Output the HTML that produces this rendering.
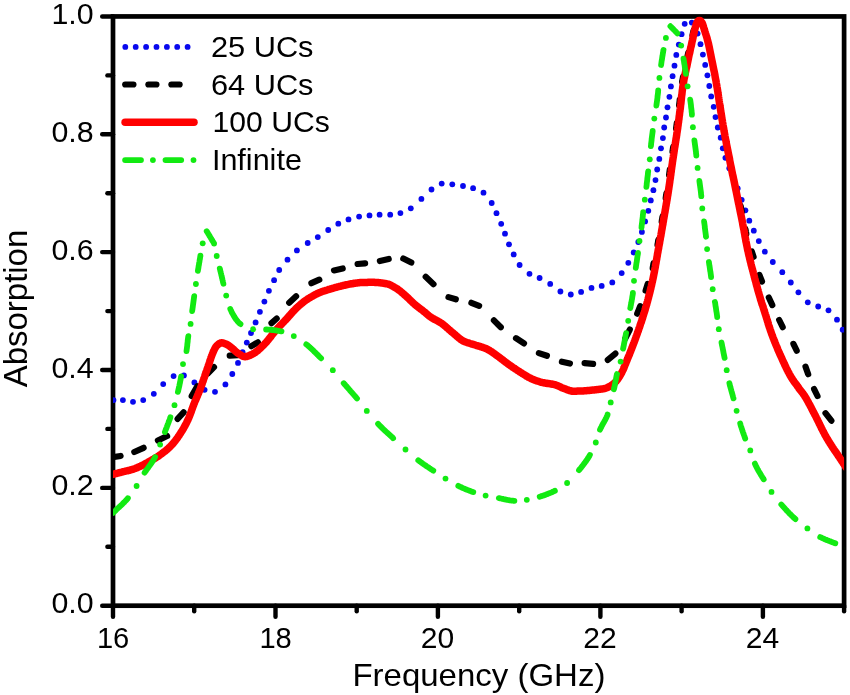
<!DOCTYPE html>
<html lang="en"><head><meta charset="utf-8"><title>Absorption vs Frequency</title>
<style>html,body{margin:0;padding:0;background:#fff;}svg{display:block;}</style></head>
<body>
<svg width="850" height="695" viewBox="0 0 850 695">
<rect width="850" height="695" fill="#fff"/>
<defs><clipPath id="cp"><rect x="113.0" y="16.45" width="731.1" height="589.25"/></clipPath></defs>
<g stroke="#000" stroke-width="4.7" fill="none" stroke-linecap="round">
<rect x="113.0" y="16.45" width="731.1" height="589.25" stroke-linejoin="miter"/>
<path d="M113.0,605.7 V616.8000000000001" stroke-width="4.4"/>
<path d="M194.2,605.7 V611.2" stroke-width="4.4"/>
<path d="M275.5,605.7 V616.8000000000001" stroke-width="4.4"/>
<path d="M356.7,605.7 V611.2" stroke-width="4.4"/>
<path d="M437.9,605.7 V616.8000000000001" stroke-width="4.4"/>
<path d="M519.2,605.7 V611.2" stroke-width="4.4"/>
<path d="M600.4,605.7 V616.8000000000001" stroke-width="4.4"/>
<path d="M681.6,605.7 V611.2" stroke-width="4.4"/>
<path d="M762.9,605.7 V616.8000000000001" stroke-width="4.4"/>
<path d="M844.1,605.7 V611.2" stroke-width="4.4"/>
<path d="M113.0,605.7 H102.2" stroke-width="4.4"/>
<path d="M113.0,546.8 H107.4" stroke-width="4.4"/>
<path d="M113.0,487.9 H102.2" stroke-width="4.4"/>
<path d="M113.0,428.9 H107.4" stroke-width="4.4"/>
<path d="M113.0,370.0 H102.2" stroke-width="4.4"/>
<path d="M113.0,311.1 H107.4" stroke-width="4.4"/>
<path d="M113.0,252.1 H102.2" stroke-width="4.4"/>
<path d="M113.0,193.2 H107.4" stroke-width="4.4"/>
<path d="M113.0,134.3 H102.2" stroke-width="4.4"/>
<path d="M113.0,75.4 H107.4" stroke-width="4.4"/>
<path d="M113.0,16.5 H102.2" stroke-width="4.4"/>
</g>
<g clip-path="url(#cp)" fill="none" stroke-linecap="round" stroke-linejoin="round">
<g fill="#0808ee" stroke="none">
<circle cx="113.5" cy="400.1" r="2.9"/>
<circle cx="122.9" cy="400.1" r="2.9"/>
<circle cx="133.0" cy="401.8" r="2.9"/>
<circle cx="143.2" cy="400.1" r="2.9"/>
<circle cx="153.8" cy="393.8" r="2.9"/>
<circle cx="163.2" cy="384.1" r="2.9"/>
<circle cx="173.6" cy="376.1" r="2.9"/>
<circle cx="183.9" cy="375.4" r="2.9"/>
<circle cx="194.4" cy="382.4" r="2.9"/>
<circle cx="204.6" cy="389.8" r="2.9"/>
<circle cx="215.0" cy="391.8" r="2.9"/>
<circle cx="225.4" cy="384.4" r="2.9"/>
<circle cx="232.3" cy="374.0" r="2.9"/>
<circle cx="238.0" cy="362.9" r="2.9"/>
<circle cx="242.6" cy="352.2" r="2.9"/>
<circle cx="246.8" cy="342.6" r="2.9"/>
<circle cx="251.0" cy="333.0" r="2.9"/>
<circle cx="255.6" cy="322.4" r="2.9"/>
<circle cx="259.9" cy="311.8" r="2.9"/>
<circle cx="264.4" cy="301.6" r="2.9"/>
<circle cx="268.9" cy="290.8" r="2.9"/>
<circle cx="274.1" cy="280.2" r="2.9"/>
<circle cx="279.2" cy="270.0" r="2.9"/>
<circle cx="287.5" cy="259.7" r="2.9"/>
<circle cx="296.9" cy="250.4" r="2.9"/>
<circle cx="307.7" cy="243.0" r="2.9"/>
<circle cx="317.8" cy="237.1" r="2.9"/>
<circle cx="328.2" cy="230.0" r="2.9"/>
<circle cx="338.3" cy="223.7" r="2.9"/>
<circle cx="348.5" cy="219.4" r="2.9"/>
<circle cx="359.1" cy="216.6" r="2.9"/>
<circle cx="369.5" cy="215.4" r="2.9"/>
<circle cx="379.6" cy="214.7" r="2.9"/>
<circle cx="390.2" cy="214.7" r="2.9"/>
<circle cx="400.4" cy="213.1" r="2.9"/>
<circle cx="410.8" cy="208.3" r="2.9"/>
<circle cx="421.4" cy="198.9" r="2.9"/>
<circle cx="431.5" cy="189.5" r="2.9"/>
<circle cx="441.7" cy="183.6" r="2.9"/>
<circle cx="452.3" cy="184.3" r="2.9"/>
<circle cx="463.0" cy="186.0" r="2.9"/>
<circle cx="473.1" cy="188.2" r="2.9"/>
<circle cx="483.5" cy="192.7" r="2.9"/>
<circle cx="491.7" cy="203.0" r="2.9"/>
<circle cx="496.5" cy="213.2" r="2.9"/>
<circle cx="501.2" cy="223.8" r="2.9"/>
<circle cx="505.0" cy="233.7" r="2.9"/>
<circle cx="509.0" cy="244.3" r="2.9"/>
<circle cx="513.7" cy="254.4" r="2.9"/>
<circle cx="519.6" cy="265.0" r="2.9"/>
<circle cx="529.5" cy="273.8" r="2.9"/>
<circle cx="539.6" cy="278.0" r="2.9"/>
<circle cx="550.2" cy="283.9" r="2.9"/>
<circle cx="560.4" cy="291.5" r="2.9"/>
<circle cx="570.8" cy="294.5" r="2.9"/>
<circle cx="581.1" cy="291.9" r="2.9"/>
<circle cx="591.5" cy="287.9" r="2.9"/>
<circle cx="601.7" cy="285.9" r="2.9"/>
<circle cx="612.3" cy="282.4" r="2.9"/>
<circle cx="621.7" cy="273.1" r="2.9"/>
<circle cx="628.3" cy="262.8" r="2.9"/>
<circle cx="633.7" cy="252.5" r="2.9"/>
<circle cx="638.3" cy="242.0" r="2.9"/>
<circle cx="641.9" cy="231.9" r="2.9"/>
<circle cx="645.1" cy="221.4" r="2.9"/>
<circle cx="648.3" cy="210.8" r="2.9"/>
<circle cx="650.8" cy="200.4" r="2.9"/>
<circle cx="653.4" cy="190.2" r="2.9"/>
<circle cx="655.5" cy="180.1" r="2.9"/>
<circle cx="657.2" cy="169.5" r="2.9"/>
<circle cx="659.3" cy="158.9" r="2.9"/>
<circle cx="661.0" cy="148.3" r="2.9"/>
<circle cx="662.9" cy="138.1" r="2.9"/>
<circle cx="664.2" cy="127.5" r="2.9"/>
<circle cx="666.0" cy="117.5" r="2.9"/>
<circle cx="667.5" cy="107.3" r="2.9"/>
<circle cx="669.4" cy="96.8" r="2.9"/>
<circle cx="670.9" cy="86.4" r="2.9"/>
<circle cx="672.6" cy="76.2" r="2.9"/>
<circle cx="674.5" cy="65.7" r="2.9"/>
<circle cx="676.3" cy="54.9" r="2.9"/>
<circle cx="678.8" cy="44.6" r="2.9"/>
<circle cx="681.6" cy="34.2" r="2.9"/>
<circle cx="684.7" cy="23.8" r="2.9"/>
<circle cx="691.8" cy="22.6" r="2.9"/>
<circle cx="697.6" cy="33.6" r="2.9"/>
<circle cx="700.5" cy="44.2" r="2.9"/>
<circle cx="702.9" cy="54.6" r="2.9"/>
<circle cx="705.2" cy="64.9" r="2.9"/>
<circle cx="707.4" cy="75.3" r="2.9"/>
<circle cx="709.3" cy="86.0" r="2.9"/>
<circle cx="711.2" cy="96.4" r="2.9"/>
<circle cx="713.7" cy="106.8" r="2.9"/>
<circle cx="715.5" cy="117.1" r="2.9"/>
<circle cx="717.8" cy="127.5" r="2.9"/>
<circle cx="720.7" cy="137.7" r="2.9"/>
<circle cx="722.8" cy="148.3" r="2.9"/>
<circle cx="725.4" cy="157.8" r="2.9"/>
<circle cx="729.3" cy="168.2" r="2.9"/>
<circle cx="733.5" cy="178.4" r="2.9"/>
<circle cx="737.7" cy="188.5" r="2.9"/>
<circle cx="741.7" cy="199.8" r="2.9"/>
<circle cx="745.4" cy="210.3" r="2.9"/>
<circle cx="749.3" cy="220.7" r="2.9"/>
<circle cx="753.8" cy="230.7" r="2.9"/>
<circle cx="758.8" cy="241.1" r="2.9"/>
<circle cx="764.8" cy="251.7" r="2.9"/>
<circle cx="772.8" cy="262.0" r="2.9"/>
<circle cx="782.3" cy="272.2" r="2.9"/>
<circle cx="790.8" cy="282.5" r="2.9"/>
<circle cx="798.4" cy="292.3" r="2.9"/>
<circle cx="807.8" cy="302.3" r="2.9"/>
<circle cx="818.2" cy="306.5" r="2.9"/>
<circle cx="828.5" cy="310.3" r="2.9"/>
<circle cx="837.0" cy="319.7" r="2.9"/>
<circle cx="842.7" cy="329.7" r="2.9"/>
</g>
<g stroke="#000" stroke-width="6.2">
<path d="M112.6,457.3 L120.6,456.0"/>
<path d="M134.3,452.0 L143.6,447.8"/>
<path d="M157.9,440.5 L167.1,436.0"/>
<path d="M177.6,418.9 L183.6,412.4"/>
<path d="M191.7,396.1 L197.3,386.2"/>
<path d="M207.7,373.5 L214.0,367.1"/>
<path d="M229.7,355.6 L238.0,355.1"/>
<path d="M251.4,346.2 L257.9,342.3"/>
<path d="M271.5,323.1 L276.7,318.5"/>
<path d="M289.2,302.7 L296.1,296.3"/>
<path d="M311.4,283.2 L319.3,279.7"/>
<path d="M334.0,270.4 L342.7,268.4"/>
<path d="M357.6,264.0 L365.1,263.3"/>
<path d="M379.9,261.0 L388.7,259.0"/>
<path d="M403.3,258.6 L411.3,262.6"/>
<path d="M425.7,276.8 L433.5,284.2"/>
<path d="M448.5,297.1 L455.8,299.3"/>
<path d="M471.4,302.8 L479.1,305.8"/>
<path d="M493.9,320.4 L500.8,327.3"/>
<path d="M516.0,338.2 L524.0,343.4"/>
<path d="M538.9,353.1 L546.9,355.8"/>
<path d="M561.9,361.7 L569.9,363.6"/>
<path d="M584.6,363.1 L593.1,363.9"/>
<path d="M607.8,359.9 L615.4,353.6"/>
<path d="M625.2,338.7 L629.8,329.6"/>
<path d="M637.2,313.7 L640.2,306.2"/>
<path d="M645.6,290.6 L647.7,284.0"/>
<path d="M751.8,251.4 L753.6,256.9"/>
<path d="M759.4,274.9 L762.0,281.5"/>
<path d="M768.8,297.5 L772.3,305.1"/>
<path d="M779.2,320.0 L782.7,327.2"/>
<path d="M793.4,343.9 L796.7,350.7"/>
<path d="M805.5,366.6 L808.2,374.2"/>
<path d="M814.1,389.1 L817.5,396.0"/>
<path d="M825.5,413.2 L831.4,420.7"/>
<path d="M652.7,268.1 L652.8,267.4 L652.9,266.7 L653.1,265.9 L653.2,265.2 L653.3,264.4 L653.5,263.7 L653.6,263.0"/>
<path d="M657.5,245.0 L657.6,244.2 L657.7,243.5 L657.9,242.8 L658.0,242.0 L658.1,241.3 L658.2,240.6 L658.4,239.8"/>
<path d="M661.7,221.6 L661.8,220.9 L661.9,220.1 L662.1,219.4 L662.2,218.6 L662.3,217.9 L662.4,217.2 L662.6,216.4"/>
<path d="M665.7,198.2 L665.8,197.4 L665.9,196.7 L666.0,196.0 L666.1,195.2 L666.3,194.5 L666.4,193.7 L666.5,193.0"/>
<path d="M669.1,174.9 L669.2,174.2 L669.3,173.5 L669.4,172.7 L669.5,172.0 L669.6,171.2 L669.7,170.5 L669.8,169.7"/>
<path d="M672.5,151.7 L672.6,150.9 L672.7,150.2 L672.8,149.5 L672.9,148.7 L673.0,148.0 L673.2,147.2 L673.3,146.5"/>
<path d="M676.1,128.4 L676.2,127.7 L676.3,127.0 L676.4,126.2 L676.5,125.5 L676.6,124.7 L676.7,124.0 L676.8,123.2"/>
<path d="M679.1,105.1 L679.2,104.4 L679.3,103.7 L679.4,102.9 L679.5,102.2 L679.6,101.4 L679.7,100.7 L679.7,99.9"/>
<path d="M682.1,81.8 L682.2,81.1 L682.4,80.4 L682.5,79.6 L682.7,78.9 L682.8,78.2 L682.9,77.4 L683.1,76.7"/>
<path d="M687.0,58.6 L687.2,57.8 L687.3,57.1 L687.5,56.4 L687.6,55.6 L687.8,54.9 L687.9,54.2 L688.1,53.4 L688.3,52.7"/>
<path d="M692.5,35.1 L692.7,34.4 L692.8,33.6 L693.0,32.9 L693.2,32.2 L693.3,31.5 L693.5,30.7"/>
<path d="M740.6,205.8 L740.8,206.5 L740.9,207.3 L741.1,208.0 L741.2,208.7 L741.4,209.5 L741.5,210.2 L741.7,210.9 L741.8,211.7"/>
<path d="M745.4,228.9 L745.5,229.6 L745.7,230.3 L745.8,231.1 L745.9,231.8 L746.1,232.5 L746.2,233.3 L746.3,234.0"/>
</g>
<path d="M113.0,474.3 L114.0,474.1 L114.9,473.8 L115.9,473.6 L116.9,473.3 L117.8,473.1 L118.8,472.8 L119.8,472.6 L120.8,472.3 L121.7,472.1 L122.7,471.8 L123.7,471.6 L124.6,471.4 L125.6,471.1 L126.6,470.9 L127.6,470.7 L128.6,470.5 L129.5,470.2 L130.5,470.0 L131.5,469.7 L132.4,469.4 L133.4,469.1 L134.3,468.8 L135.2,468.5 L136.2,468.1 L137.1,467.7 L138.0,467.3 L138.9,466.9 L139.8,466.5 L140.7,466.1 L141.6,465.6 L142.5,465.2 L143.4,464.7 L144.3,464.2 L145.2,463.8 L146.1,463.3 L147.0,462.8 L147.8,462.4 L148.7,461.9 L149.6,461.4 L150.5,460.9 L151.3,460.4 L152.2,459.9 L153.1,459.4 L153.9,458.9 L154.8,458.4 L155.7,457.8 L156.5,457.3 L157.4,456.8 L158.2,456.2 L159.0,455.7 L159.8,455.1 L160.6,454.5 L161.5,453.9 L162.2,453.3 L163.0,452.7 L163.8,452.1 L164.6,451.5 L165.4,450.9 L166.2,450.2 L167.0,449.6 L167.7,448.9 L168.5,448.2 L169.2,447.5 L169.9,446.8 L170.6,446.1 L171.3,445.4 L172.0,444.7 L172.6,444.0 L173.3,443.2 L173.9,442.4 L174.5,441.7 L175.2,440.9 L175.8,440.1 L176.4,439.3 L177.0,438.5 L177.6,437.7 L178.1,436.8 L178.7,436.0 L179.3,435.2 L179.8,434.3 L180.4,433.5 L180.9,432.6 L181.4,431.8 L182.0,431.0 L182.5,430.1 L183.0,429.2 L183.5,428.4 L184.0,427.5 L184.5,426.6 L185.0,425.8 L185.4,424.9 L185.9,424.0 L186.4,423.1 L186.8,422.2 L187.2,421.3 L187.7,420.4 L188.1,419.5 L188.5,418.6 L188.9,417.7 L189.3,416.7 L189.6,415.8 L190.0,414.9 L190.4,413.9 L190.7,413.0 L191.1,412.1 L191.4,411.1 L191.7,410.2 L192.1,409.2 L192.4,408.3 L192.7,407.3 L193.1,406.4 L193.4,405.5 L193.8,404.5 L194.2,403.6 L194.5,402.7 L194.9,401.7 L195.3,400.8 L195.7,399.9 L196.1,399.0 L196.5,398.1 L196.9,397.1 L197.3,396.2 L197.6,395.3 L198.0,394.4 L198.4,393.5 L198.8,392.5 L199.2,391.6 L199.6,390.7 L199.9,389.8 L200.3,388.8 L200.6,387.9 L201.0,386.9 L201.3,386.0 L201.7,385.1 L202.0,384.1 L202.3,383.2 L202.6,382.2 L203.0,381.3 L203.3,380.3 L203.6,379.4 L203.9,378.4 L204.3,377.5 L204.6,376.6 L204.9,375.6 L205.2,374.7 L205.6,373.7 L205.9,372.8 L206.2,371.8 L206.6,370.9 L206.9,369.9 L207.2,369.0 L207.5,368.1 L207.9,367.1 L208.2,366.2 L208.5,365.2 L208.9,364.3 L209.2,363.3 L209.5,362.4 L209.8,361.4 L210.1,360.5 L210.4,359.5 L210.7,358.6 L211.0,357.6 L211.4,356.7 L211.7,355.7 L212.1,354.8 L212.4,353.9 L212.8,353.0 L213.2,352.0 L213.6,351.0 L214.1,350.1 L214.5,349.2 L215.0,348.3 L215.5,347.4 L216.0,346.6 L216.6,345.9 L217.3,345.2 L218.1,344.5 L219.0,343.8 L219.9,343.2 L220.8,342.9 L221.7,342.8 L222.7,342.9 L223.6,343.2 L224.6,343.5 L225.6,343.9 L226.5,344.3 L227.4,344.7 L228.2,345.2 L229.1,345.8 L229.9,346.4 L230.7,347.1 L231.5,347.7 L232.3,348.3 L233.0,349.0 L233.8,349.6 L234.5,350.3 L235.2,351.0 L236.0,351.7 L236.7,352.3 L237.5,352.9 L238.3,353.5 L239.2,354.0 L240.1,354.6 L241.0,355.2 L241.9,355.7 L242.8,356.2 L243.7,356.5 L244.6,356.7 L245.6,356.7 L246.5,356.5 L247.5,356.3 L248.4,356.0 L249.4,355.6 L250.3,355.1 L251.3,354.7 L252.2,354.2 L253.1,353.7 L253.9,353.2 L254.8,352.7 L255.6,352.2 L256.4,351.6 L257.2,351.0 L258.0,350.4 L258.7,349.7 L259.5,349.0 L260.2,348.4 L261.0,347.6 L261.7,346.9 L262.4,346.2 L263.1,345.5 L263.8,344.8 L264.5,344.1 L265.2,343.3 L265.9,342.6 L266.6,341.9 L267.2,341.1 L267.9,340.3 L268.5,339.6 L269.1,338.8 L269.7,338.0 L270.4,337.2 L271.0,336.4 L271.6,335.6 L272.2,334.8 L272.8,334.0 L273.4,333.2 L274.1,332.5 L274.7,331.7 L275.3,330.9 L276.0,330.1 L276.6,329.4 L277.3,328.6 L278.0,327.9 L278.7,327.2 L279.3,326.5 L280.0,325.7 L280.7,325.0 L281.4,324.3 L282.1,323.6 L282.8,322.9 L283.5,322.2 L284.2,321.4 L284.9,320.7 L285.6,320.0 L286.3,319.2 L287.0,318.5 L287.6,317.8 L288.3,317.0 L288.9,316.2 L289.6,315.5 L290.3,314.7 L290.9,314.0 L291.6,313.2 L292.3,312.5 L292.9,311.7 L293.6,311.0 L294.3,310.3 L295.0,309.6 L295.7,308.8 L296.4,308.2 L297.1,307.5 L297.9,306.8 L298.6,306.1 L299.3,305.5 L300.1,304.8 L300.9,304.2 L301.6,303.5 L302.4,302.9 L303.2,302.3 L304.0,301.6 L304.8,301.0 L305.6,300.4 L306.4,299.9 L307.3,299.3 L308.1,298.8 L308.9,298.2 L309.8,297.7 L310.6,297.2 L311.5,296.7 L312.4,296.2 L313.2,295.7 L314.1,295.2 L315.0,294.8 L315.9,294.3 L316.8,293.9 L317.7,293.4 L318.6,293.0 L319.6,292.6 L320.5,292.3 L321.4,291.9 L322.3,291.5 L323.3,291.2 L324.2,290.9 L325.2,290.6 L326.1,290.3 L327.1,290.0 L328.0,289.7 L329.0,289.4 L330.0,289.1 L330.9,288.8 L331.9,288.5 L332.8,288.3 L333.8,288.0 L334.8,287.7 L335.7,287.4 L336.7,287.2 L337.7,286.9 L338.6,286.7 L339.6,286.4 L340.6,286.2 L341.5,285.9 L342.5,285.7 L343.5,285.4 L344.5,285.2 L345.4,285.0 L346.4,284.8 L347.4,284.6 L348.4,284.4 L349.3,284.2 L350.3,284.0 L351.3,283.8 L352.3,283.7 L353.3,283.5 L354.3,283.3 L355.3,283.2 L356.3,283.1 L357.3,282.9 L358.2,282.8 L359.2,282.7 L360.2,282.6 L361.2,282.5 L362.2,282.5 L363.2,282.5 L364.2,282.4 L365.2,282.4 L366.2,282.4 L367.2,282.4 L368.2,282.3 L369.2,282.3 L370.2,282.3 L371.2,282.3 L372.2,282.3 L373.2,282.3 L374.2,282.3 L375.2,282.4 L376.2,282.4 L377.3,282.5 L378.3,282.6 L379.3,282.7 L380.3,282.8 L381.3,282.9 L382.3,283.1 L383.3,283.2 L384.2,283.4 L385.2,283.5 L386.2,283.7 L387.1,283.9 L388.1,284.1 L389.0,284.4 L389.9,284.8 L390.9,285.2 L391.8,285.7 L392.7,286.2 L393.6,286.7 L394.4,287.2 L395.3,287.7 L396.2,288.2 L397.0,288.8 L397.8,289.3 L398.6,289.9 L399.4,290.5 L400.2,291.1 L401.0,291.8 L401.7,292.4 L402.5,293.1 L403.3,293.7 L404.0,294.4 L404.8,295.1 L405.5,295.7 L406.3,296.4 L407.0,297.1 L407.7,297.7 L408.5,298.4 L409.2,299.1 L409.9,299.8 L410.6,300.5 L411.3,301.2 L412.1,301.9 L412.8,302.6 L413.5,303.3 L414.3,304.0 L415.0,304.6 L415.8,305.3 L416.6,305.9 L417.3,306.5 L418.1,307.1 L418.9,307.7 L419.7,308.3 L420.5,308.9 L421.3,309.5 L422.1,310.1 L422.9,310.7 L423.7,311.4 L424.5,312.0 L425.3,312.6 L426.0,313.3 L426.8,313.9 L427.5,314.6 L428.3,315.3 L429.1,315.9 L429.9,316.5 L430.7,317.1 L431.5,317.6 L432.4,318.1 L433.2,318.6 L434.1,319.1 L435.0,319.6 L435.9,320.0 L436.8,320.5 L437.7,321.0 L438.5,321.5 L439.4,322.0 L440.2,322.5 L441.1,323.0 L441.9,323.6 L442.7,324.2 L443.5,324.8 L444.3,325.4 L445.0,326.1 L445.8,326.7 L446.5,327.4 L447.3,328.0 L448.1,328.7 L448.8,329.4 L449.6,330.0 L450.3,330.7 L451.1,331.3 L451.8,332.0 L452.6,332.6 L453.4,333.3 L454.2,333.9 L454.9,334.6 L455.7,335.3 L456.5,335.9 L457.2,336.6 L458.0,337.3 L458.8,337.9 L459.6,338.5 L460.4,339.2 L461.2,339.7 L462.0,340.3 L462.8,340.8 L463.7,341.2 L464.6,341.6 L465.5,342.0 L466.4,342.3 L467.3,342.6 L468.3,342.9 L469.3,343.2 L470.2,343.5 L471.2,343.8 L472.2,344.1 L473.2,344.4 L474.1,344.7 L475.1,345.0 L476.0,345.3 L477.0,345.6 L478.0,345.9 L478.9,346.2 L479.9,346.5 L480.9,346.7 L481.8,347.0 L482.8,347.4 L483.7,347.7 L484.6,348.0 L485.6,348.4 L486.5,348.8 L487.3,349.2 L488.2,349.7 L489.1,350.1 L489.9,350.7 L490.8,351.2 L491.6,351.8 L492.4,352.3 L493.3,352.9 L494.1,353.5 L494.9,354.1 L495.7,354.7 L496.5,355.3 L497.3,355.9 L498.2,356.5 L499.0,357.1 L499.8,357.7 L500.6,358.3 L501.4,358.9 L502.2,359.5 L503.0,360.1 L503.7,360.7 L504.5,361.3 L505.3,361.9 L506.1,362.5 L506.9,363.1 L507.7,363.7 L508.5,364.3 L509.3,364.9 L510.2,365.5 L511.0,366.0 L511.8,366.6 L512.6,367.2 L513.5,367.7 L514.3,368.3 L515.1,368.8 L516.0,369.4 L516.8,369.9 L517.6,370.5 L518.5,371.0 L519.3,371.6 L520.2,372.1 L521.0,372.6 L521.9,373.2 L522.7,373.7 L523.6,374.2 L524.4,374.8 L525.3,375.3 L526.1,375.9 L527.0,376.4 L527.8,376.9 L528.7,377.4 L529.6,377.8 L530.5,378.3 L531.4,378.7 L532.3,379.1 L533.2,379.5 L534.1,379.9 L535.0,380.2 L536.0,380.6 L536.9,380.9 L537.9,381.2 L538.9,381.5 L539.8,381.8 L540.8,382.1 L541.7,382.4 L542.7,382.6 L543.7,382.8 L544.7,383.0 L545.6,383.2 L546.6,383.3 L547.6,383.5 L548.6,383.6 L549.6,383.7 L550.6,383.9 L551.6,384.0 L552.6,384.2 L553.6,384.4 L554.5,384.6 L555.5,384.9 L556.4,385.2 L557.3,385.6 L558.3,386.0 L559.2,386.4 L560.1,386.8 L561.0,387.3 L561.9,387.7 L562.9,388.1 L563.8,388.4 L564.7,388.7 L565.7,389.1 L566.6,389.5 L567.6,389.9 L568.6,390.2 L569.5,390.6 L570.5,390.8 L571.4,391.0 L572.4,391.2 L573.4,391.2 L574.4,391.2 L575.4,391.2 L576.4,391.2 L577.4,391.1 L578.4,391.1 L579.4,391.1 L580.4,391.0 L581.4,391.0 L582.4,390.9 L583.4,390.9 L584.4,390.8 L585.4,390.7 L586.4,390.7 L587.4,390.6 L588.4,390.5 L589.4,390.4 L590.4,390.3 L591.4,390.2 L592.4,390.1 L593.4,390.0 L594.3,389.9 L595.3,389.8 L596.3,389.7 L597.3,389.6 L598.3,389.4 L599.4,389.3 L600.4,389.2 L601.3,389.1 L602.3,388.9 L603.3,388.8 L604.3,388.6 L605.2,388.3 L606.2,388.0 L607.1,387.7 L608.1,387.2 L609.0,386.8 L609.9,386.3 L610.8,385.8 L611.6,385.3 L612.4,384.8 L613.1,384.2 L613.9,383.6 L614.6,382.9 L615.3,382.1 L616.0,381.4 L616.6,380.6 L617.3,379.8 L617.9,378.9 L618.5,378.1 L619.0,377.2 L619.6,376.4 L620.1,375.5 L620.6,374.7 L621.1,373.8 L621.6,373.0 L622.0,372.1 L622.4,371.2 L622.9,370.3 L623.3,369.4 L623.7,368.5 L624.1,367.5 L624.4,366.6 L624.8,365.7 L625.2,364.7 L625.6,363.8 L625.9,362.8 L626.3,361.9 L626.7,361.0 L627.1,360.0 L627.5,359.1 L627.8,358.2 L628.2,357.3 L628.6,356.3 L629.0,355.4 L629.4,354.5 L629.7,353.6 L630.1,352.6 L630.5,351.7 L630.8,350.8 L631.2,349.8 L631.6,348.9 L631.9,348.0 L632.3,347.0 L632.7,346.1 L633.0,345.2 L633.4,344.2 L633.7,343.3 L634.1,342.4 L634.4,341.4 L634.8,340.5 L635.1,339.6 L635.5,338.6 L635.8,337.7 L636.1,336.7 L636.5,335.8 L636.8,334.9 L637.2,333.9 L637.5,333.0 L637.8,332.0 L638.2,331.1 L638.5,330.1 L638.8,329.2 L639.1,328.2 L639.5,327.3 L639.8,326.4 L640.1,325.4 L640.4,324.5 L640.7,323.5 L641.1,322.6 L641.4,321.6 L641.7,320.7 L642.0,319.7 L642.3,318.8 L642.6,317.8 L642.9,316.8 L643.2,315.9 L643.5,314.9 L643.8,314.0 L644.1,313.0 L644.4,312.1 L644.7,311.1 L645.0,310.2 L645.3,309.2 L645.5,308.2 L645.8,307.3 L646.1,306.3 L646.4,305.4 L646.7,304.4 L646.9,303.4 L647.2,302.5 L647.5,301.5 L647.7,300.5 L648.0,299.6 L648.2,298.6 L648.5,297.6 L648.7,296.7 L649.0,295.7 L649.2,294.7 L649.5,293.8 L649.7,292.8 L650.0,291.8 L650.2,290.9 L650.4,289.9 L650.7,288.9 L650.9,287.9 L651.1,287.0 L651.4,286.0 L651.6,285.0 L651.8,284.0 L652.0,283.1 L652.2,282.1 L652.5,281.1 L652.7,280.1 L652.9,279.2 L653.1,278.2 L653.3,277.2 L653.5,276.2 L653.7,275.2 L653.9,274.3 L654.1,273.3 L654.3,272.3 L654.5,271.3 L654.6,270.3 L654.8,269.4 L655.0,268.4 L655.2,267.4 L655.4,266.4 L655.5,265.4 L655.7,264.4 L655.9,263.5 L656.1,262.5 L656.2,261.5 L656.4,260.5 L656.6,259.5 L656.8,258.5 L656.9,257.5 L657.1,256.6 L657.3,255.6 L657.4,254.6 L657.6,253.6 L657.8,252.6 L658.0,251.6 L658.1,250.6 L658.3,249.7 L658.5,248.7 L658.7,247.7 L658.8,246.7 L659.0,245.7 L659.2,244.7 L659.4,243.8 L659.6,242.8 L659.7,241.8 L659.9,240.8 L660.1,239.8 L660.3,238.8 L660.4,237.8 L660.6,236.9 L660.8,235.9 L661.0,234.9 L661.1,233.9 L661.3,232.9 L661.5,231.9 L661.6,231.0 L661.8,230.0 L662.0,229.0 L662.2,228.0 L662.3,227.0 L662.5,226.0 L662.7,225.0 L662.9,224.1 L663.0,223.1 L663.2,222.1 L663.4,221.1 L663.5,220.1 L663.7,219.1 L663.9,218.1 L664.0,217.2 L664.2,216.2 L664.4,215.2 L664.5,214.2 L664.7,213.2 L664.9,212.2 L665.1,211.2 L665.2,210.3 L665.4,209.3 L665.6,208.3 L665.7,207.3 L665.9,206.3 L666.1,205.3 L666.2,204.3 L666.4,203.4 L666.6,202.4 L666.7,201.4 L666.9,200.4 L667.1,199.4 L667.2,198.4 L667.4,197.4 L667.5,196.5 L667.7,195.5 L667.9,194.5 L668.0,193.5 L668.2,192.5 L668.3,191.5 L668.5,190.5 L668.6,189.5 L668.8,188.6 L668.9,187.6 L669.1,186.6 L669.2,185.6 L669.4,184.6 L669.5,183.6 L669.7,182.6 L669.8,181.6 L669.9,180.6 L670.1,179.6 L670.2,178.7 L670.4,177.7 L670.5,176.7 L670.6,175.7 L670.8,174.7 L670.9,173.7 L671.0,172.7 L671.2,171.7 L671.3,170.7 L671.4,169.7 L671.6,168.7 L671.7,167.8 L671.8,166.8 L672.0,165.8 L672.1,164.8 L672.3,163.8 L672.4,162.8 L672.5,161.8 L672.7,160.8 L672.8,159.8 L673.0,158.8 L673.1,157.9 L673.3,156.9 L673.4,155.9 L673.6,154.9 L673.7,153.9 L673.9,152.9 L674.0,151.9 L674.2,150.9 L674.3,149.9 L674.5,149.0 L674.6,148.0 L674.8,147.0 L675.0,146.0 L675.1,145.0 L675.3,144.0 L675.4,143.0 L675.6,142.0 L675.7,141.1 L675.9,140.1 L676.0,139.1 L676.2,138.1 L676.4,137.1 L676.5,136.1 L676.7,135.1 L676.8,134.1 L676.9,133.1 L677.1,132.2 L677.2,131.2 L677.4,130.2 L677.5,129.2 L677.7,128.2 L677.8,127.2 L677.9,126.2 L678.1,125.2 L678.2,124.2 L678.3,123.2 L678.5,122.3 L678.6,121.3 L678.7,120.3 L678.9,119.3 L679.0,118.3 L679.1,117.3 L679.2,116.3 L679.4,115.3 L679.5,114.3 L679.6,113.3 L679.7,112.3 L679.9,111.3 L680.0,110.4 L680.1,109.4 L680.3,108.4 L680.4,107.4 L680.5,106.4 L680.6,105.4 L680.7,104.4 L680.9,103.4 L681.0,102.4 L681.1,101.4 L681.2,100.4 L681.3,99.4 L681.4,98.4 L681.5,97.4 L681.6,96.4 L681.7,95.4 L681.9,94.5 L682.0,93.5 L682.1,92.5 L682.2,91.5 L682.3,90.5 L682.5,89.5 L682.6,88.5 L682.7,87.5 L682.9,86.5 L683.0,85.5 L683.2,84.5 L683.3,83.6 L683.5,82.6 L683.7,81.6 L683.8,80.6 L684.0,79.6 L684.2,78.6 L684.4,77.7 L684.6,76.7 L684.8,75.7 L685.0,74.7 L685.2,73.7 L685.4,72.8 L685.6,71.8 L685.8,70.8 L686.0,69.8 L686.2,68.8 L686.4,67.9 L686.7,66.9 L686.9,65.9 L687.1,64.9 L687.3,63.9 L687.5,63.0 L687.7,62.0 L687.9,61.0 L688.1,60.0 L688.3,59.1 L688.5,58.1 L688.7,57.1 L688.9,56.1 L689.1,55.1 L689.3,54.2 L689.6,53.2 L689.8,52.2 L690.0,51.2 L690.2,50.3 L690.4,49.3 L690.6,48.3 L690.8,47.3 L691.1,46.4 L691.3,45.4 L691.5,44.4 L691.7,43.4 L691.9,42.4 L692.1,41.5 L692.4,40.5 L692.6,39.5 L692.8,38.5 L693.0,37.6 L693.2,36.6 L693.4,35.6 L693.6,34.6 L693.8,33.6 L694.1,32.7 L694.3,31.7 L694.5,30.7 L694.7,29.8 L695.0,28.8 L695.2,27.8 L695.5,26.8 L695.8,25.8 L696.0,24.8 L696.4,23.9 L696.7,23.0 L697.2,22.2 L697.9,21.2 L698.7,20.5 L699.5,20.2 L700.2,20.6 L701.0,21.3 L701.7,22.3 L702.2,23.1 L702.6,24.0 L702.9,24.9 L703.2,25.9 L703.5,26.9 L703.8,27.9 L704.1,28.8 L704.4,29.8 L704.7,30.7 L705.0,31.7 L705.3,32.6 L705.6,33.6 L705.9,34.5 L706.2,35.5 L706.5,36.5 L706.8,37.4 L707.1,38.4 L707.3,39.3 L707.6,40.3 L707.8,41.3 L708.1,42.2 L708.3,43.2 L708.6,44.2 L708.8,45.2 L709.0,46.1 L709.2,47.1 L709.4,48.1 L709.6,49.1 L709.8,50.0 L710.0,51.0 L710.2,52.0 L710.4,53.0 L710.6,54.0 L710.8,54.9 L711.0,55.9 L711.2,56.9 L711.4,57.9 L711.6,58.9 L711.8,59.9 L712.0,60.8 L712.2,61.8 L712.4,62.8 L712.6,63.8 L712.8,64.8 L713.0,65.7 L713.2,66.7 L713.4,67.7 L713.6,68.7 L713.8,69.7 L714.0,70.6 L714.2,71.6 L714.4,72.6 L714.6,73.6 L714.8,74.6 L715.0,75.5 L715.1,76.5 L715.3,77.5 L715.5,78.5 L715.7,79.5 L715.9,80.5 L716.1,81.4 L716.2,82.4 L716.4,83.4 L716.6,84.4 L716.8,85.4 L716.9,86.4 L717.1,87.4 L717.3,88.3 L717.4,89.3 L717.6,90.3 L717.7,91.3 L717.9,92.3 L718.0,93.3 L718.2,94.3 L718.3,95.3 L718.5,96.2 L718.6,97.2 L718.8,98.2 L718.9,99.2 L719.1,100.2 L719.2,101.2 L719.4,102.2 L719.5,103.2 L719.7,104.2 L719.9,105.1 L720.0,106.1 L720.2,107.1 L720.3,108.1 L720.5,109.1 L720.6,110.1 L720.8,111.1 L720.9,112.1 L721.1,113.0 L721.3,114.0 L721.4,115.0 L721.6,116.0 L721.7,117.0 L721.9,118.0 L722.0,119.0 L722.2,120.0 L722.4,120.9 L722.5,121.9 L722.7,122.9 L722.9,123.9 L723.0,124.9 L723.2,125.9 L723.4,126.9 L723.5,127.8 L723.7,128.8 L723.9,129.8 L724.0,130.8 L724.2,131.8 L724.4,132.8 L724.6,133.8 L724.8,134.7 L724.9,135.7 L725.1,136.7 L725.3,137.7 L725.5,138.7 L725.7,139.7 L725.9,140.6 L726.1,141.6 L726.2,142.6 L726.4,143.6 L726.6,144.6 L726.8,145.5 L727.0,146.5 L727.2,147.5 L727.4,148.5 L727.6,149.5 L727.8,150.4 L728.0,151.4 L728.2,152.4 L728.4,153.4 L728.6,154.4 L728.8,155.4 L729.0,156.3 L729.2,157.3 L729.4,158.3 L729.6,159.3 L729.7,160.3 L729.9,161.2 L730.1,162.2 L730.3,163.2 L730.5,164.2 L730.7,165.2 L730.9,166.1 L731.1,167.1 L731.3,168.1 L731.5,169.1 L731.7,170.1 L731.9,171.0 L732.1,172.0 L732.3,173.0 L732.5,174.0 L732.7,175.0 L733.0,175.9 L733.2,176.9 L733.4,177.9 L733.6,178.9 L733.8,179.8 L734.0,180.8 L734.2,181.8 L734.4,182.8 L734.6,183.8 L734.8,184.7 L735.0,185.7 L735.2,186.7 L735.4,187.7 L735.6,188.7 L735.8,189.6 L736.0,190.6 L736.2,191.6 L736.4,192.6 L736.6,193.6 L736.8,194.5 L737.0,195.5 L737.2,196.5 L737.4,197.5 L737.6,198.5 L737.8,199.4 L738.0,200.4 L738.2,201.4 L738.4,202.4 L738.6,203.4 L738.8,204.3 L739.0,205.3 L739.2,206.3 L739.4,207.3 L739.6,208.3 L739.8,209.2 L740.0,210.2 L740.2,211.2 L740.4,212.2 L740.6,213.2 L740.8,214.1 L741.0,215.1 L741.2,216.1 L741.4,217.1 L741.6,218.1 L741.8,219.0 L742.0,220.0 L742.2,221.0 L742.4,222.0 L742.6,223.0 L742.7,223.9 L742.9,224.9 L743.1,225.9 L743.3,226.9 L743.5,227.9 L743.7,228.9 L743.9,229.8 L744.1,230.8 L744.2,231.8 L744.4,232.8 L744.6,233.8 L744.8,234.8 L744.9,235.7 L745.1,236.7 L745.3,237.7 L745.5,238.7 L745.7,239.7 L745.8,240.7 L746.0,241.6 L746.2,242.6 L746.4,243.6 L746.6,244.6 L746.8,245.6 L747.0,246.5 L747.2,247.5 L747.4,248.5 L747.6,249.5 L747.8,250.5 L748.1,251.4 L748.3,252.4 L748.5,253.4 L748.7,254.4 L748.9,255.3 L749.2,256.3 L749.4,257.3 L749.6,258.3 L749.8,259.2 L750.1,260.2 L750.3,261.2 L750.6,262.1 L750.8,263.1 L751.0,264.1 L751.3,265.1 L751.5,266.0 L751.8,267.0 L752.0,268.0 L752.3,268.9 L752.6,269.9 L752.8,270.9 L753.1,271.8 L753.3,272.8 L753.6,273.8 L753.8,274.7 L754.1,275.7 L754.3,276.7 L754.6,277.6 L754.8,278.6 L755.1,279.6 L755.3,280.5 L755.6,281.5 L755.9,282.5 L756.1,283.4 L756.4,284.4 L756.6,285.4 L756.9,286.3 L757.2,287.3 L757.4,288.3 L757.7,289.2 L757.9,290.2 L758.2,291.2 L758.5,292.1 L758.8,293.1 L759.0,294.0 L759.3,295.0 L759.6,296.0 L759.9,296.9 L760.2,297.9 L760.4,298.8 L760.7,299.8 L761.0,300.7 L761.3,301.7 L761.6,302.7 L761.9,303.6 L762.2,304.6 L762.6,305.5 L762.9,306.5 L763.2,307.4 L763.5,308.4 L763.8,309.3 L764.1,310.3 L764.4,311.2 L764.7,312.2 L765.0,313.1 L765.3,314.1 L765.6,315.0 L765.9,316.0 L766.2,316.9 L766.5,317.9 L766.8,318.9 L767.1,319.8 L767.4,320.8 L767.7,321.7 L768.0,322.7 L768.2,323.6 L768.5,324.6 L768.8,325.5 L769.1,326.5 L769.5,327.5 L769.8,328.4 L770.1,329.4 L770.4,330.3 L770.7,331.2 L771.1,332.2 L771.4,333.1 L771.7,334.1 L772.1,335.0 L772.4,335.9 L772.8,336.9 L773.1,337.8 L773.5,338.7 L773.9,339.7 L774.2,340.6 L774.6,341.5 L775.0,342.5 L775.4,343.4 L775.7,344.3 L776.1,345.2 L776.5,346.2 L776.9,347.1 L777.3,348.0 L777.6,348.9 L778.0,349.9 L778.4,350.8 L778.8,351.7 L779.2,352.6 L779.6,353.5 L780.0,354.4 L780.4,355.4 L780.9,356.3 L781.3,357.2 L781.7,358.1 L782.1,359.0 L782.5,359.9 L782.9,360.8 L783.3,361.7 L783.8,362.6 L784.2,363.6 L784.6,364.5 L785.0,365.4 L785.5,366.3 L785.9,367.2 L786.3,368.1 L786.8,369.0 L787.2,369.9 L787.7,370.8 L788.1,371.7 L788.6,372.5 L789.1,373.4 L789.5,374.3 L790.0,375.2 L790.5,376.0 L791.0,376.9 L791.5,377.7 L792.1,378.6 L792.6,379.4 L793.2,380.2 L793.7,381.1 L794.3,381.9 L794.9,382.7 L795.5,383.5 L796.1,384.3 L796.7,385.1 L797.3,385.9 L797.9,386.8 L798.5,387.6 L799.0,388.4 L799.6,389.2 L800.2,390.0 L800.8,390.8 L801.5,391.6 L802.1,392.4 L802.7,393.1 L803.3,394.0 L803.8,394.8 L804.4,395.6 L804.9,396.4 L805.4,397.3 L806.0,398.1 L806.5,399.0 L807.0,399.9 L807.5,400.7 L808.0,401.6 L808.4,402.5 L808.9,403.4 L809.4,404.2 L809.9,405.1 L810.3,406.0 L810.8,406.9 L811.3,407.8 L811.7,408.7 L812.2,409.6 L812.6,410.5 L813.1,411.4 L813.5,412.3 L814.0,413.1 L814.5,414.0 L814.9,414.9 L815.4,415.8 L815.9,416.7 L816.3,417.6 L816.8,418.5 L817.2,419.4 L817.7,420.3 L818.1,421.2 L818.6,422.1 L819.0,423.0 L819.4,423.9 L819.9,424.8 L820.3,425.7 L820.8,426.6 L821.2,427.5 L821.6,428.4 L822.1,429.2 L822.5,430.1 L823.0,431.0 L823.4,431.9 L823.9,432.8 L824.4,433.7 L824.8,434.6 L825.3,435.5 L825.8,436.3 L826.3,437.2 L826.8,438.1 L827.3,438.9 L827.8,439.8 L828.3,440.6 L828.8,441.5 L829.4,442.3 L829.9,443.2 L830.4,444.0 L831.0,444.8 L831.5,445.7 L832.1,446.5 L832.6,447.4 L833.2,448.2 L833.7,449.0 L834.3,449.9 L834.9,450.7 L835.4,451.5 L836.0,452.3 L836.6,453.2 L837.1,454.0 L837.7,454.8 L838.2,455.7 L838.8,456.5 L839.4,457.3 L839.9,458.2 L840.5,459.0 L841.0,459.8 L841.6,460.7 L842.1,461.5 L842.7,462.3 L843.2,463.2 L843.8,464.0 L844.3,464.8 L844.9,465.6 L845.5,466.5 L846.0,467.3" stroke="#ff0000" stroke-width="7.5"/>
<g stroke="#12ea12" stroke-width="5.8">
<path d="M113.0,513.0 L113.5,512.5 L114.1,511.9 L114.6,511.4 L115.1,510.9 L115.7,510.4 L116.2,509.8 L116.8,509.3 L117.3,508.8 L117.9,508.3 L118.4,507.8 L119.0,507.3 L119.5,506.7 L120.1,506.2 L120.6,505.7 L121.2,505.2 L121.7,504.7 L122.3,504.2 L122.8,503.6 L123.3,503.1 L123.9,502.6 L124.4,502.1 L124.9,501.5 L125.4,501.0 L126.0,500.4 L126.5,499.9 L127.0,499.3 L127.5,498.8 L127.9,498.2 L127.9,498.2"/>
<path d="M136.6,486.0 l0.01,0"/>
<path d="M144.6,472.7 L145.0,472.1 L145.4,471.4 L145.9,470.8 L146.3,470.2 L146.7,469.6 L147.2,469.0 L147.6,468.4 L148.1,467.8 L148.5,467.1 L149.0,466.5 L149.4,465.9 L149.8,465.3 L150.3,464.7 L150.7,464.1 L151.2,463.5 L151.6,462.9 L152.0,462.2 L152.4,461.6 L152.8,461.0 L153.2,460.4 L153.6,459.7 L154.0,459.1 L154.4,458.4 L154.7,457.8 L155.1,457.1 L155.1,457.1"/>
<path d="M160.1,444.6 l0.01,0"/>
<path d="M164.9,432.0 L165.2,431.3 L165.4,430.6 L165.7,429.9 L166.0,429.2 L166.2,428.5 L166.5,427.8 L166.8,427.1 L167.0,426.4 L167.3,425.7 L167.6,425.0 L167.8,424.3 L168.1,423.6 L168.4,422.9 L168.6,422.2 L168.9,421.5 L169.1,420.8 L169.4,420.1 L169.7,419.4 L169.9,418.7 L170.2,418.0 L170.4,417.3 L170.4,417.3"/>
<path d="M174.5,405.2 l0.01,0"/>
<path d="M177.9,391.9 L178.1,391.1 L178.3,390.4 L178.4,389.7 L178.6,388.9 L178.8,388.2 L178.9,387.5 L179.1,386.7 L179.3,386.0 L179.4,385.3 L179.6,384.5 L179.7,383.8 L179.9,383.1 L180.0,382.3 L180.2,381.6 L180.3,380.9 L180.5,380.1 L180.6,379.4 L180.7,378.7 L180.9,377.9 L181.0,377.2 L181.1,376.4 L181.1,376.4"/>
<path d="M183.0,364.1 l0.01,0"/>
<path d="M186.5,351.1 L186.6,350.3 L186.7,349.6 L186.8,348.9 L186.9,348.1 L187.0,347.4 L187.1,346.6 L187.2,345.9 L187.3,345.1 L187.3,344.4 L187.4,343.6 L187.5,342.9 L187.6,342.1 L187.7,341.4 L187.7,340.6 L187.8,339.9 L187.9,339.2 L188.0,338.4 L188.1,337.7 L188.2,336.9 L188.3,336.2 L188.3,336.2"/>
<path d="M190.6,323.9 l0.01,0"/>
<path d="M192.2,311.0 L192.3,310.2 L192.4,309.5 L192.5,308.8 L192.6,308.0 L192.7,307.3 L192.8,306.5 L192.9,305.8 L193.0,305.0 L193.1,304.3 L193.2,303.6 L193.3,302.8 L193.4,302.1 L193.5,301.3 L193.6,300.6 L193.7,299.8 L193.8,299.1 L193.9,298.4 L194.0,297.6 L194.1,296.9 L194.2,296.1 L194.2,296.1"/>
<path d="M195.9,284.0 l0.01,0"/>
<path d="M197.9,270.9 L198.0,270.1 L198.1,269.4 L198.3,268.7 L198.4,267.9 L198.5,267.2 L198.6,266.4 L198.7,265.7 L198.9,265.0 L199.0,264.2 L199.1,263.5 L199.2,262.7 L199.4,262.0 L199.5,261.3 L199.6,260.5 L199.7,259.8 L199.9,259.0 L200.0,258.3 L200.1,257.6 L200.2,256.8 L200.4,256.1 L200.4,255.6"/>
<path d="M202.7,243.3 l0.01,0"/>
<path d="M206.7,231.2 L207.1,231.9 L207.5,232.5 L207.9,233.1 L208.3,233.8 L208.7,234.4 L209.1,235.1 L209.4,235.7 L209.8,236.4 L210.2,237.0 L210.6,237.6 L211.0,238.3 L211.4,238.9 L211.8,239.6 L212.1,240.2 L212.5,240.9 L212.9,241.5 L213.3,242.1 L213.7,242.8 L214.1,243.4 L214.1,243.5"/>
<path d="M216.7,256.0 l0.01,0"/>
<path d="M219.8,268.6 L220.0,269.3 L220.2,270.1 L220.3,270.8 L220.5,271.5 L220.7,272.2 L220.9,273.0 L221.1,273.7 L221.2,274.4 L221.4,275.2 L221.6,275.9 L221.8,276.6 L221.9,277.4 L222.1,278.1 L222.3,278.8 L222.4,279.5 L222.6,280.3 L222.8,281.0 L222.9,281.7 L223.1,282.5 L223.3,283.2 L223.4,283.7"/>
<path d="M226.2,295.6 l0.01,0"/>
<path d="M230.3,309.0 L230.6,309.7 L230.9,310.3 L231.3,311.1 L231.6,311.8 L231.9,312.5 L232.3,313.2 L232.7,313.9 L233.1,314.6 L233.5,315.3 L233.9,316.0 L234.3,316.7 L234.7,317.3 L235.1,318.0 L235.6,318.7 L236.0,319.3 L236.5,319.9 L237.0,320.5 L237.4,321.1 L237.9,321.7 L238.4,322.2 L238.9,322.7 L239.4,323.2 L240.0,323.7 L240.5,324.1 L240.5,324.1"/>
<path d="M253.1,329.2 l0.01,0"/>
<path d="M266.1,329.5 L266.8,329.5 L267.6,329.6 L268.3,329.6 L269.1,329.7 L269.8,329.7 L270.6,329.8 L271.3,329.9 L272.1,330.0 L272.8,330.0 L273.6,330.1 L274.3,330.2 L275.1,330.3 L275.8,330.4 L276.6,330.5 L277.3,330.7 L278.0,330.8 L278.8,330.9 L279.5,331.0 L280.2,331.2 L281.0,331.3 L281.5,331.4"/>
<path d="M293.8,336.1 l0.01,0"/>
<path d="M306.3,344.4 L306.9,344.8 L307.5,345.3 L308.0,345.8 L308.6,346.3 L309.2,346.8 L309.7,347.3 L310.3,347.8 L310.8,348.3 L311.4,348.8 L311.9,349.3 L312.5,349.8 L313.0,350.3 L313.6,350.8 L314.1,351.4 L314.7,351.9 L315.2,352.4 L315.7,353.0 L316.3,353.5 L316.8,354.0 L317.3,354.6 L317.9,355.1 L318.4,355.6 L318.9,356.2 L319.5,356.7 L320.0,357.2 L320.5,357.7 L321.1,358.3 L321.1,358.3"/>
<path d="M332.8,370.2 l0.01,0"/>
<path d="M343.7,383.2 L344.2,383.8 L344.7,384.4 L345.2,384.9 L345.7,385.5 L346.2,386.1 L346.7,386.6 L347.2,387.2 L347.7,387.8 L348.2,388.3 L348.7,388.9 L349.2,389.5 L349.7,390.0 L350.1,390.6 L350.6,391.2 L351.1,391.7 L351.6,392.3 L352.1,392.8 L352.6,393.4 L353.1,394.0 L353.6,394.5 L354.1,395.1 L354.6,395.7 L355.1,396.2 L355.6,396.8 L356.1,397.4 L356.5,398.0 L357.0,398.5 L357.0,398.5"/>
<path d="M366.8,410.9 l0.01,0"/>
<path d="M378.1,423.9 L378.6,424.4 L379.1,425.0 L379.7,425.5 L380.2,426.0 L380.7,426.6 L381.3,427.1 L381.8,427.6 L382.3,428.1 L382.9,428.7 L383.4,429.2 L383.9,429.7 L384.5,430.2 L385.0,430.7 L385.6,431.2 L386.1,431.7 L386.7,432.3 L387.2,432.8 L387.8,433.3 L388.4,433.8 L388.9,434.3 L389.5,434.8 L390.0,435.3 L390.6,435.8 L391.1,436.3 L391.7,436.8 L392.2,437.3 L392.8,437.8 L393.1,438.2"/>
<path d="M405.5,449.5 l0.01,0"/>
<path d="M418.3,460.3 L418.9,460.8 L419.5,461.2 L420.1,461.7 L420.7,462.1 L421.3,462.5 L421.9,463.0 L422.5,463.4 L423.1,463.8 L423.7,464.3 L424.4,464.7 L425.0,465.1 L425.6,465.5 L426.2,466.0 L426.8,466.4 L427.5,466.8 L428.1,467.2 L428.7,467.6 L429.3,468.1 L430.0,468.5 L430.6,468.9 L431.2,469.3 L431.8,469.7 L432.5,470.1 L433.1,470.6 L433.3,470.7"/>
<path d="M445.5,478.6 l0.01,0"/>
<path d="M458.3,485.9 L458.9,486.2 L459.6,486.5 L460.3,486.8 L461.0,487.1 L461.7,487.5 L462.4,487.8 L463.0,488.1 L463.7,488.4 L464.4,488.7 L465.1,489.0 L465.8,489.3 L466.5,489.6 L467.2,489.8 L467.9,490.1 L468.6,490.4 L469.3,490.7 L470.0,490.9 L470.7,491.2 L471.4,491.5 L472.1,491.7 L472.8,492.0 L473.3,492.1"/>
<path d="M485.6,495.6 l0.01,0"/>
<path d="M498.8,498.1 L499.6,498.2 L500.3,498.4 L501.0,498.5 L501.8,498.7 L502.5,498.9 L503.3,499.0 L504.0,499.2 L504.7,499.4 L505.5,499.5 L506.2,499.7 L506.9,499.8 L507.7,500.0 L508.4,500.1 L509.2,500.2 L509.9,500.4 L510.6,500.5 L511.4,500.6 L512.1,500.6 L512.9,500.7 L513.6,500.8 L514.4,500.8 L514.4,500.8"/>
<path d="M526.8,499.8 l0.01,0"/>
<path d="M539.7,496.7 L540.4,496.5 L541.1,496.3 L541.8,496.0 L542.5,495.8 L543.3,495.6 L544.0,495.3 L544.7,495.1 L545.4,494.8 L546.1,494.5 L546.8,494.3 L547.5,494.0 L548.2,493.7 L548.9,493.4 L549.6,493.2 L550.3,492.9 L551.0,492.6 L551.7,492.3 L552.4,492.0 L553.1,491.7 L553.7,491.3 L554.4,491.0 L554.9,490.8"/>
<path d="M567.1,483.0 l0.01,0"/>
<path d="M579.0,470.2 L579.4,469.6 L579.9,469.1 L580.4,468.5 L580.9,467.9 L581.3,467.3 L581.8,466.7 L582.3,466.1 L582.7,465.5 L583.2,464.9 L583.6,464.3 L584.1,463.7 L584.6,463.1 L585.0,462.5 L585.4,461.9 L585.9,461.3 L586.3,460.7 L586.7,460.0 L587.2,459.4 L587.6,458.8 L588.0,458.2 L588.4,457.5 L588.8,456.9 L589.2,456.3 L589.5,455.6 L589.9,455.0 L589.9,455.0"/>
<path d="M595.8,442.5 l0.01,0"/>
<path d="M600.0,429.7 L600.3,429.0 L600.6,428.4 L600.9,427.7 L601.3,427.0 L601.6,426.3 L601.9,425.7 L602.3,425.0 L602.7,424.3 L603.0,423.7 L603.4,423.0 L603.8,422.4 L604.2,421.7 L604.5,421.0 L604.9,420.4 L605.3,419.7 L605.6,419.0 L605.9,418.4 L606.3,417.7 L606.6,417.0 L606.9,416.3 L607.2,415.7 L607.5,415.0 L607.6,414.5"/>
<path d="M610.7,402.4 l0.01,0"/>
<path d="M613.9,389.3 L614.1,388.6 L614.3,387.8 L614.4,387.1 L614.6,386.4 L614.7,385.6 L614.9,384.9 L615.0,384.2 L615.1,383.4 L615.3,382.7 L615.4,381.9 L615.5,381.2 L615.7,380.5 L615.8,379.7 L616.0,379.0 L616.1,378.3 L616.2,377.5 L616.4,376.8 L616.5,376.0 L616.7,375.3 L616.8,374.6 L617.0,374.1"/>
<path d="M620.6,361.6 l0.01,0"/>
<path d="M623.1,348.6 L623.3,347.9 L623.4,347.1 L623.6,346.4 L623.7,345.7 L623.9,344.9 L624.0,344.2 L624.1,343.5 L624.3,342.7 L624.4,342.0 L624.6,341.3 L624.7,340.5 L624.8,339.8 L625.0,339.0 L625.1,338.3 L625.3,337.6 L625.4,336.8 L625.5,336.1 L625.7,335.4 L625.8,334.6 L625.9,333.9 L626.1,333.1 L626.1,333.1"/>
<path d="M628.2,320.8 l0.01,0"/>
<path d="M630.3,308.0 L630.5,307.3 L630.6,306.5 L630.7,305.8 L630.9,305.0 L631.0,304.3 L631.1,303.6 L631.3,302.8 L631.4,302.1 L631.6,301.4 L631.7,300.6 L631.8,299.9 L632.0,299.1 L632.1,298.4 L632.2,297.7 L632.3,296.9 L632.4,296.2 L632.6,295.4 L632.7,294.7 L632.8,294.0 L632.9,293.2 L632.9,293.0"/>
<path d="M634.0,280.8 l0.01,0"/>
<path d="M635.8,267.9 L635.9,267.1 L636.0,266.4 L636.1,265.7 L636.2,264.9 L636.3,264.2 L636.4,263.4 L636.5,262.7 L636.7,262.0 L636.8,261.2 L636.9,260.5 L637.0,259.7 L637.1,259.0 L637.2,258.2 L637.3,257.5 L637.4,256.8 L637.5,256.0 L637.6,255.3 L637.8,254.5 L637.9,253.8 L638.0,253.0 L638.0,253.0"/>
<path d="M639.5,240.9 l0.01,0"/>
<path d="M641.5,227.5 L641.6,226.8 L641.6,226.1 L641.7,225.3 L641.8,224.6 L641.9,223.8 L642.0,223.1 L642.1,222.3 L642.2,221.6 L642.3,220.8 L642.3,220.1 L642.4,219.3 L642.5,218.6 L642.6,217.9 L642.7,217.1 L642.8,216.4 L642.8,215.6 L642.9,214.9 L643.0,214.1 L643.1,213.4 L643.2,212.6 L643.2,212.1"/>
<path d="M644.8,199.7 l0.01,0"/>
<path d="M646.4,186.8 L646.5,186.1 L646.6,185.3 L646.7,184.6 L646.7,183.9 L646.8,183.1 L646.9,182.4 L647.0,181.6 L647.1,180.9 L647.2,180.1 L647.3,179.4 L647.3,178.6 L647.4,177.9 L647.5,177.2 L647.6,176.4 L647.7,175.7 L647.8,174.9 L647.9,174.2 L647.9,173.4 L648.0,172.7 L648.1,171.9 L648.2,171.4"/>
<path d="M649.8,159.3 l0.01,0"/>
<path d="M650.9,146.1 L651.0,145.4 L651.1,144.6 L651.1,143.9 L651.2,143.1 L651.3,142.4 L651.4,141.6 L651.5,140.9 L651.6,140.1 L651.6,139.4 L651.7,138.6 L651.8,137.9 L651.9,137.2 L652.0,136.4 L652.1,135.7 L652.2,134.9 L652.3,134.2 L652.4,133.4 L652.5,132.7 L652.6,131.9 L652.7,131.2 L652.7,130.9"/>
<path d="M654.3,118.6 l0.01,0"/>
<path d="M656.4,105.5 L656.5,104.7 L656.6,104.0 L656.7,103.2 L656.8,102.5 L656.9,101.8 L657.0,101.0 L657.1,100.3 L657.2,99.5 L657.3,98.8 L657.4,98.0 L657.5,97.3 L657.5,96.5 L657.6,95.8 L657.7,95.1 L657.8,94.3 L657.9,93.6 L658.0,92.8 L658.1,92.1 L658.1,91.3 L658.2,90.6 L658.2,90.3"/>
<path d="M659.4,77.9 l0.01,0"/>
<path d="M661.1,65.0 L661.2,64.3 L661.3,63.5 L661.4,62.8 L661.5,62.0 L661.6,61.3 L661.7,60.5 L661.9,59.8 L662.0,59.1 L662.1,58.3 L662.2,57.6 L662.3,56.8 L662.4,56.1 L662.6,55.4 L662.7,54.6 L662.8,53.9 L662.9,53.1 L663.1,52.4 L663.2,51.7 L663.3,50.9 L663.4,50.2 L663.5,49.9"/>
<path d="M665.9,37.9 l0.01,0"/>
<path d="M670.4,26.2 L670.9,26.7 L671.4,27.3 L672.0,27.8 L672.5,28.4 L673.0,28.9 L673.5,29.4 L674.1,30.0 L674.6,30.5 L675.1,31.0 L675.6,31.6 L676.2,32.1 L676.7,32.7 L677.2,33.2 L677.4,33.4"/>
<path d="M681.2,45.6 l0.01,0"/>
<path d="M683.5,58.6 L683.6,59.4 L683.7,60.1 L683.9,60.8 L684.0,61.6 L684.1,62.3 L684.2,63.1 L684.3,63.8 L684.5,64.5 L684.6,65.3 L684.7,66.0 L684.8,66.8 L684.9,67.5 L685.0,68.2 L685.1,69.0 L685.3,69.7 L685.4,70.5 L685.5,71.2 L685.6,72.0 L685.7,72.7 L685.8,73.4 L685.9,73.9"/>
<path d="M687.6,86.3 l0.01,0"/>
<path d="M690.2,99.6 L690.3,100.3 L690.4,101.1 L690.5,101.8 L690.6,102.5 L690.7,103.3 L690.8,104.0 L690.9,104.8 L691.0,105.5 L691.0,106.3 L691.1,107.0 L691.2,107.8 L691.3,108.5 L691.4,109.2 L691.5,110.0 L691.6,110.7 L691.6,111.5 L691.7,112.2 L691.8,113.0 L691.9,113.7 L691.9,114.5 L691.9,114.7"/>
<path d="M692.9,127.2 l0.01,0"/>
<path d="M694.4,140.3 L694.5,141.1 L694.6,141.8 L694.7,142.6 L694.8,143.3 L694.9,144.1 L695.0,144.8 L695.1,145.6 L695.2,146.3 L695.3,147.0 L695.4,147.8 L695.5,148.5 L695.6,149.3 L695.7,150.0 L695.8,150.8 L695.9,151.5 L696.0,152.2 L696.0,153.0 L696.1,153.7 L696.2,154.5 L696.3,155.2 L696.3,155.5"/>
<path d="M697.6,167.9 l0.01,0"/>
<path d="M699.4,181.0 L699.5,181.8 L699.6,182.5 L699.7,183.3 L699.8,184.0 L699.9,184.8 L700.0,185.5 L700.1,186.2 L700.2,187.0 L700.3,187.7 L700.4,188.5 L700.5,189.2 L700.6,190.0 L700.7,190.7 L700.8,191.4 L700.9,192.2 L701.0,192.9 L701.0,193.7 L701.1,194.4 L701.2,195.2 L701.3,195.9 L701.3,196.2"/>
<path d="M702.3,208.4 l0.01,0"/>
<path d="M704.1,221.5 L704.2,222.3 L704.3,223.0 L704.4,223.7 L704.5,224.5 L704.6,225.2 L704.7,226.0 L704.8,226.7 L704.8,227.5 L704.9,228.2 L705.0,228.9 L705.1,229.7 L705.2,230.4 L705.3,231.2 L705.4,231.9 L705.5,232.7 L705.6,233.4 L705.7,234.2 L705.8,234.9 L705.9,235.6 L705.9,236.4 L706.0,236.6"/>
<path d="M707.1,249.1 l0.01,0"/>
<path d="M708.9,262.0 L709.0,262.7 L709.1,263.4 L709.2,264.2 L709.3,264.9 L709.5,265.7 L709.6,266.4 L709.7,267.2 L709.8,267.9 L709.9,268.6 L710.0,269.4 L710.1,270.1 L710.2,270.9 L710.4,271.6 L710.5,272.3 L710.6,273.1 L710.7,273.8 L710.8,274.6 L710.9,275.3 L711.0,276.1 L711.1,276.8 L711.1,277.0"/>
<path d="M712.7,289.2 l0.01,0"/>
<path d="M714.9,302.0 L715.1,302.7 L715.2,303.5 L715.3,304.2 L715.4,305.0 L715.5,305.7 L715.6,306.4 L715.8,307.2 L715.9,307.9 L716.0,308.7 L716.1,309.4 L716.2,310.2 L716.3,310.9 L716.4,311.6 L716.6,312.4 L716.7,313.1 L716.8,313.9 L716.9,314.6 L717.0,315.3 L717.1,316.1 L717.2,316.8 L717.2,317.1"/>
<path d="M718.8,329.2 l0.01,0"/>
<path d="M721.5,342.5 L721.6,343.2 L721.8,343.9 L721.9,344.7 L722.1,345.4 L722.2,346.1 L722.4,346.9 L722.5,347.6 L722.7,348.3 L722.8,349.1 L723.0,349.8 L723.1,350.5 L723.3,351.3 L723.4,352.0 L723.5,352.8 L723.7,353.5 L723.8,354.2 L724.0,355.0 L724.1,355.7 L724.3,356.4 L724.4,357.2 L724.6,357.9 L724.6,357.9"/>
<path d="M726.7,370.2 l0.01,0"/>
<path d="M729.4,383.2 L729.6,383.9 L729.7,384.7 L729.9,385.4 L730.1,386.1 L730.3,386.8 L730.5,387.6 L730.7,388.3 L730.9,389.0 L731.1,389.7 L731.3,390.4 L731.5,391.2 L731.7,391.9 L731.9,392.6 L732.1,393.3 L732.3,394.1 L732.5,394.8 L732.7,395.5 L732.9,396.2 L733.1,397.0 L733.3,397.7 L733.5,398.4 L733.5,398.4"/>
<path d="M736.6,410.8 l0.01,0"/>
<path d="M740.2,423.5 L740.4,424.2 L740.6,425.0 L740.8,425.7 L741.0,426.4 L741.3,427.1 L741.5,427.8 L741.7,428.5 L742.0,429.3 L742.2,430.0 L742.4,430.7 L742.7,431.4 L742.9,432.1 L743.2,432.8 L743.4,433.5 L743.7,434.2 L743.9,434.9 L744.2,435.6 L744.4,436.3 L744.7,437.0 L744.9,437.8 L745.2,438.5 L745.2,438.5"/>
<path d="M750.3,450.4 l0.01,0"/>
<path d="M754.9,463.6 L755.2,464.3 L755.5,465.0 L755.8,465.7 L756.1,466.3 L756.5,467.0 L756.8,467.7 L757.2,468.3 L757.5,469.0 L757.9,469.6 L758.2,470.3 L758.6,471.0 L759.0,471.6 L759.4,472.3 L759.8,472.9 L760.2,473.5 L760.5,474.2 L760.9,474.8 L761.3,475.5 L761.7,476.1 L762.1,476.8 L762.5,477.4 L762.9,478.0 L763.3,478.7 L763.7,479.3 L763.7,479.3"/>
<path d="M771.5,491.9 l0.01,0"/>
<path d="M781.3,504.5 L781.8,505.0 L782.3,505.6 L782.8,506.2 L783.3,506.7 L783.8,507.3 L784.3,507.8 L784.8,508.4 L785.3,509.0 L785.8,509.5 L786.3,510.1 L786.8,510.6 L787.4,511.2 L787.9,511.7 L788.4,512.3 L788.9,512.8 L789.4,513.4 L790.0,513.9 L790.5,514.4 L791.0,515.0 L791.6,515.5 L792.1,516.0 L792.6,516.5 L793.2,517.1 L793.7,517.6 L794.3,518.1 L794.8,518.6 L795.4,519.1 L795.4,519.1"/>
<path d="M807.4,528.4 l0.01,0"/>
<path d="M820.2,537.1 L820.9,537.4 L821.6,537.7 L822.2,538.1 L822.9,538.4 L823.6,538.7 L824.3,539.0 L825.0,539.3 L825.7,539.6 L826.3,539.9 L827.0,540.1 L827.7,540.4 L828.4,540.7 L829.1,541.0 L829.9,541.2 L830.6,541.5 L831.3,541.8 L832.0,542.1 L832.7,542.3 L833.4,542.6 L834.1,542.9 L834.8,543.1 L835.3,543.3"/>
<path d="M847.5,548.0 l0.01,0"/>
</g>
</g>
<g font-family="'Liberation Sans', sans-serif" fill="#000">
<text x="113.1" y="648.2" font-size="30.4" text-anchor="middle" textLength="32.4" lengthAdjust="spacingAndGlyphs">16</text>
<text x="275.6" y="648.2" font-size="30.4" text-anchor="middle" textLength="32.4" lengthAdjust="spacingAndGlyphs">18</text>
<text x="437.4" y="648.2" font-size="30.4" text-anchor="middle" textLength="33.4" lengthAdjust="spacingAndGlyphs">20</text>
<text x="599.9" y="648.2" font-size="30.4" text-anchor="middle" textLength="33.4" lengthAdjust="spacingAndGlyphs">22</text>
<text x="762.4" y="648.2" font-size="30.4" text-anchor="middle" textLength="33.4" lengthAdjust="spacingAndGlyphs">24</text>
<text x="93.6" y="613.2" font-size="30.4" text-anchor="end" textLength="42.2" lengthAdjust="spacingAndGlyphs">0.0</text>
<text x="93.6" y="495.4" font-size="30.4" text-anchor="end" textLength="42.2" lengthAdjust="spacingAndGlyphs">0.2</text>
<text x="93.6" y="377.5" font-size="30.4" text-anchor="end" textLength="42.2" lengthAdjust="spacingAndGlyphs">0.4</text>
<text x="93.6" y="259.6" font-size="30.4" text-anchor="end" textLength="42.2" lengthAdjust="spacingAndGlyphs">0.6</text>
<text x="93.6" y="141.8" font-size="30.4" text-anchor="end" textLength="42.2" lengthAdjust="spacingAndGlyphs">0.8</text>
<text x="93.6" y="24.0" font-size="30.4" text-anchor="end" textLength="42.2" lengthAdjust="spacingAndGlyphs">1.0</text>
<text x="478.9" y="685.6" font-size="31.7" text-anchor="middle" textLength="253" lengthAdjust="spacingAndGlyphs">Frequency (GHz)</text>
<text transform="translate(26.6,308.5) rotate(-90)" font-size="32.4" text-anchor="middle" textLength="157.5" lengthAdjust="spacingAndGlyphs">Absorption</text>
<text x="211.0" y="56.8" font-size="29.6" textLength="102.5" lengthAdjust="spacingAndGlyphs">25 UCs</text>
<text x="211.0" y="94.5" font-size="29.6" textLength="102.5" lengthAdjust="spacingAndGlyphs">64 UCs</text>
<text x="212.6" y="132.2" font-size="29.6" textLength="117.2" lengthAdjust="spacingAndGlyphs">100 UCs</text>
<text x="211.9" y="169.9" font-size="29.6" textLength="90.0" lengthAdjust="spacingAndGlyphs">Infinite</text>
</g>
<g fill="none" stroke-linecap="round">
<g fill="#0808ee">
<circle cx="125.3" cy="46.9" r="2.9"/>
<circle cx="135.7" cy="46.9" r="2.9"/>
<circle cx="146.1" cy="46.9" r="2.9"/>
<circle cx="156.5" cy="46.9" r="2.9"/>
<circle cx="166.9" cy="46.9" r="2.9"/>
<circle cx="177.2" cy="46.9" r="2.9"/>
<circle cx="187.6" cy="46.9" r="2.9"/>
</g>
<path d="M125.19999999999999,84.5 H133.4" stroke="#000" stroke-width="6.2"/>
<path d="M148.4,84.5 H156.4" stroke="#000" stroke-width="6.2"/>
<path d="M171.4,84.5 H179.6" stroke="#000" stroke-width="6.2"/>
<path d="M125.1,122.3 H194.0" stroke="#ff0000" stroke-width="7.5"/>
<path d="M125.10000000000001,160.1 H141.0" stroke="#12ea12" stroke-width="5.8"/>
<path d="M165.5,160.1 H181.2" stroke="#12ea12" stroke-width="5.8"/>
<path d="M152.9,160.1 h0.01" stroke="#12ea12" stroke-width="5.8"/>
<path d="M193.5,160.1 h0.01" stroke="#12ea12" stroke-width="5.8"/>
</g>
</svg>
</body></html>
